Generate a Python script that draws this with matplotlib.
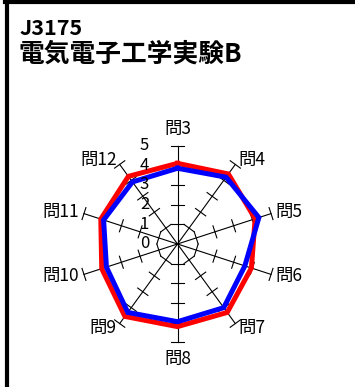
import numpy as np
import matplotlib.pyplot as plt
from matplotlib.lines import Line2D

plt.rcParams['font.family'] = ['Noto Sans CJK JP', 'DejaVu Sans']

# データ
questions = ['問3', '問4', '問5', '問6', '問7', '問8', '問9', '問10', '問11', '問12']
red_values = [4.1, 4.4, 4.15, 3.95, 4.3, 4.2, 4.55, 4.05, 4.1, 4.25]
blue_values = [3.85, 4.2, 4.35, 3.6, 4.0, 3.95, 4.3, 3.8, 3.95, 3.9]
radial_ticks = [0, 1, 2, 3, 4, 5]
title_code = 'J3175'
title_name = '電気電子工学実験B'

W, H = 355, 387
cx, cy = 177.5, 244.0   # 中心 (px, 上から)
unit = 19.67            # 1目盛あたりのpx

fig = plt.figure(figsize=(W / 100, H / 100), dpi=100)
ax = fig.add_axes([0, 0, 1, 1])
ax.set_xlim(-cx / unit, (W - cx) / unit)
ax.set_ylim(-(H - cy) / unit, cy / unit)
ax.axis('off')

n = len(questions)
angles = np.pi / 2 - np.arange(n) * 2 * np.pi / n
rmax = radial_ticks[-1]
half = 6.3 / unit

# 軸線と目盛
for a in angles:
    ux, uy = np.cos(a), np.sin(a)
    ax.plot([0, rmax * ux], [0, rmax * uy], color='black', lw=0.8, zorder=1)
    for r in radial_ticks[1:]:
        px, py = r * ux, r * uy
        ax.plot([px - half * uy, px + half * uy], [py + half * ux, py - half * ux],
                color='black', lw=0.8, zorder=1)

# データ系列
def closed(vals):
    v = np.array(vals + vals[:1])
    a = np.concatenate([angles, angles[:1]])
    return v * np.cos(a), v * np.sin(a)

rx, ry = closed(red_values)
bx, by = closed(blue_values)
ax.plot(rx, ry, color='#ff0000', lw=3.6, solid_joinstyle='miter', zorder=2)
ax.plot(bx, by, color='#0000ff', lw=3.6, solid_joinstyle='miter', zorder=3)

# 目盛ラベル
for r in radial_ticks:
    ax.text(-1.68, r, str(r), ha='center', va='center', fontsize=12, zorder=4)

# 項目ラベル
lab_r = rmax + 5.0 / unit
for q, a in zip(questions, angles):
    ux, uy = np.cos(a), np.sin(a)
    if abs(ux) < 0.1:
        ha = 'center'
        va = 'bottom' if uy > 0 else 'top'
        rr = lab_r + 3 / unit
    else:
        ha = 'left' if ux > 0 else 'right'
        va = 'center'
        rr = lab_r
    ax.text(rr * ux, rr * uy, q, ha=ha, va=va, fontsize=12.5)

# タイトル
fig.text(20 / W, 1 - 35 / H, title_code, ha='left', va='baseline',
         fontsize=15.5, fontweight='bold')
fig.text(19 / W, 1 - 62 / H, title_name, ha='left', va='baseline',
         fontsize=18.5, fontweight='bold')

# 枠線
fig.add_artist(Line2D([7 / W, 7 / W], [0, 1], color='black', lw=3, transform=fig.transFigure))
fig.add_artist(Line2D([5 / W, 1], [1 - 2 / H, 1 - 2 / H], color='black', lw=3,
                      transform=fig.transFigure))

fig.savefig('out.png', dpi=100)
